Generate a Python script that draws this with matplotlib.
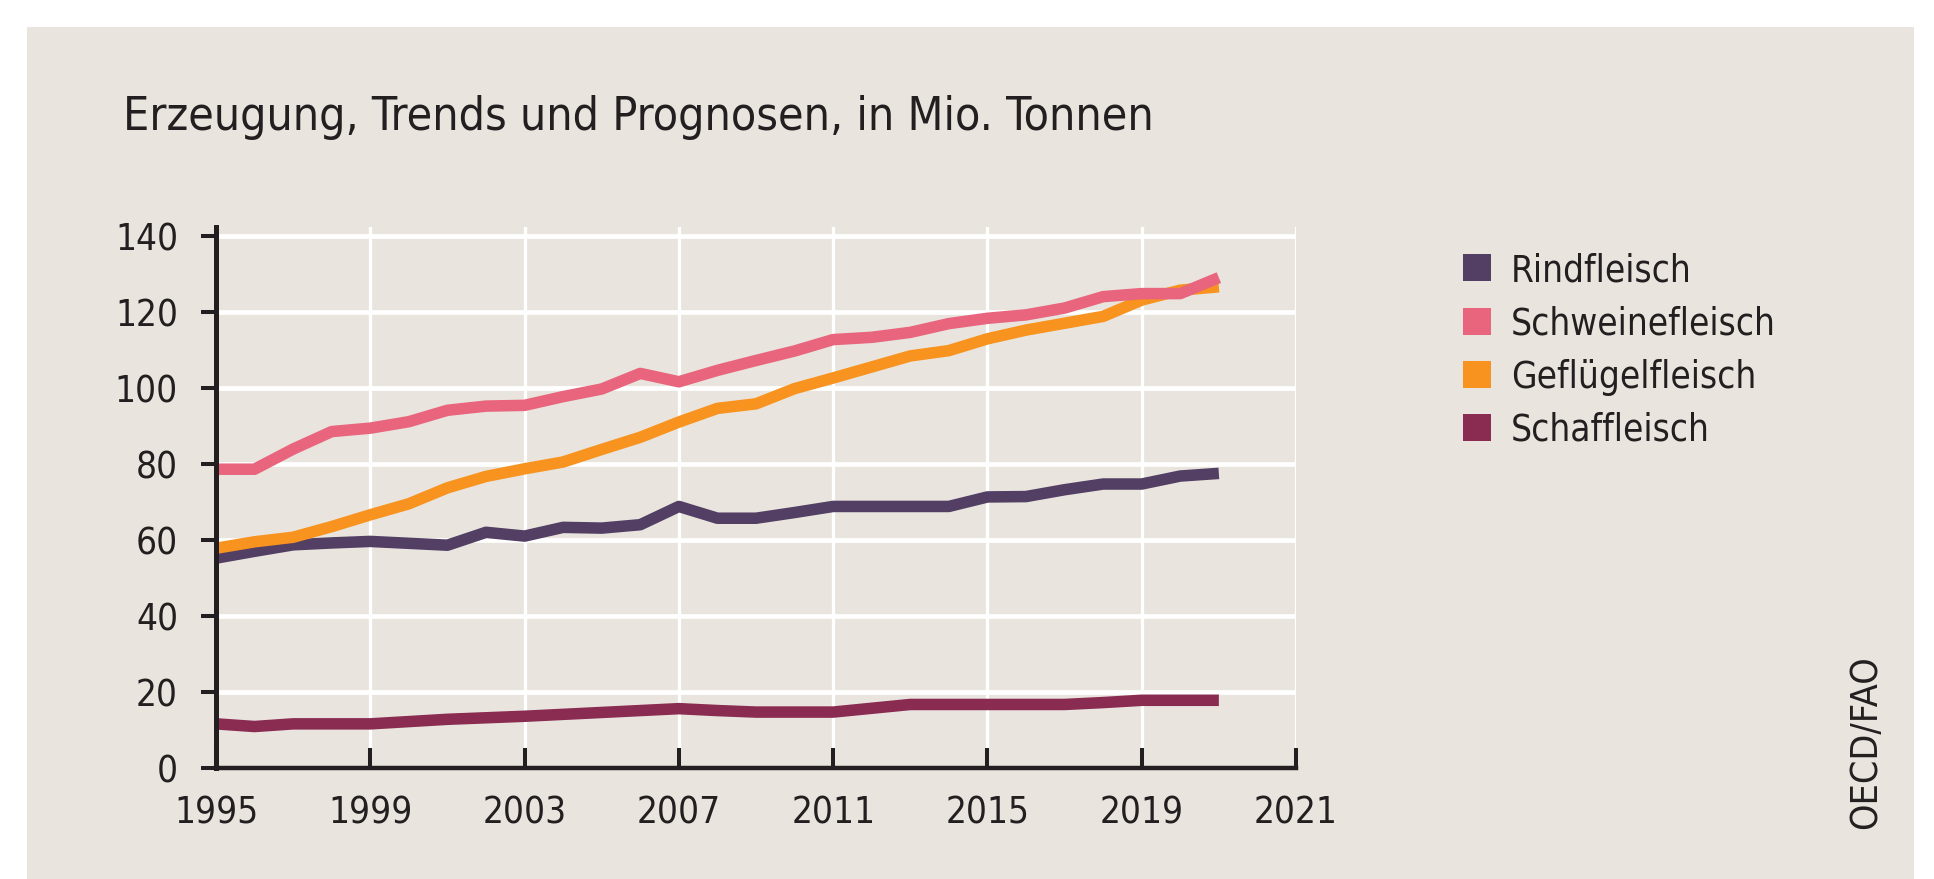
import matplotlib
matplotlib.use("Agg")
import matplotlib.pyplot as plt
from matplotlib.patches import Rectangle, Patch
from matplotlib import font_manager
import numpy as np

# pick a condensed sans if one is installed, else Roboto
_narrow = None
for f in font_manager.fontManager.ttflist:
    nm = f.name
    st = str(f.stretch)
    if f.style == "normal" and str(f.weight) in ("400", "normal") and (
            "Narrow" in nm or "Condensed" in nm or st in ("condensed", "semi-condensed", "extra-condensed")):
        _narrow = f
        break
if _narrow is not None:
    FONT_NAME = _narrow.name
else:
    FONT_NAME = "Roboto"
plt.rcParams['font.family'] = [FONT_NAME, 'DejaVu Sans']
if _narrow is not None:
    plt.rcParams['font.stretch'] = _narrow.stretch

# ---- data ----
years = list(range(1995, 2022))
rindfleisch = [55.2, 57.0, 58.7, 59.2, 59.6, 59.1, 58.6, 62.0, 61.0, 63.3, 63.1, 64.0, 68.8,
               65.7, 65.7, 67.2, 68.8, 68.8, 68.8, 68.8, 71.3, 71.4, 73.2, 74.7, 74.7, 76.8, 77.5]
schweinefleisch = [78.6, 78.6, 83.9, 88.5, 89.4, 91.1, 94.1, 95.2, 95.4, 97.7, 99.7, 103.8, 101.6,
                   104.6, 107.2, 109.7, 112.7, 113.3, 114.6, 116.9, 118.3, 119.2, 121.0, 124.0, 124.8, 124.8, 129.0]
gefluegelfleisch = [57.8, 59.5, 60.7, 63.5, 66.6, 69.5, 73.7, 76.7, 78.7, 80.5, 83.8, 87.0, 91.0,
                    94.6, 95.8, 99.8, 102.6, 105.5, 108.4, 109.8, 112.9, 115.2, 117.0, 118.8, 123.1, 125.7, 126.6]
schaffleisch = [11.6, 10.9, 11.6, 11.6, 11.6, 12.2, 12.8, 13.2, 13.6, 14.1, 14.6, 15.1, 15.6,
                15.1, 14.7, 14.7, 14.7, 15.7, 16.7, 16.7, 16.7, 16.7, 16.7, 17.2, 17.8, 17.8, 17.8]

series_names = ["Rindfleisch", "Schweinefleisch", "Geflügelfleisch", "Schaffleisch"]
series_colors = ["#523F63", "#E8657D", "#F7931E", "#8A2C52"]

x_tick_labels = ["1995", "1999", "2003", "2007", "2011", "2015", "2019", "2021"]
y_ticks = [0, 20, 40, 60, 80, 100, 120, 140]

title = "Erzeugung, Trends und Prognosen, in Mio. Tonnen"
source = "OECD/FAO"

# ---- figure ----
W, H = 1934, 879
DPI = 100
fig = plt.figure(figsize=(W / DPI, (H + 0.4) / DPI), dpi=DPI, facecolor="white")

BG = "#E9E5DE"
TXT = "#231F20"
fig.patches.append(Rectangle((27 / W, 0), (1914 - 27) / W, (879 - 27) / H,
                             transform=fig.transFigure, facecolor=BG, edgecolor="none", zorder=-5))

ax_left, ax_right = 216 / W, 1296 / W
ax_bottom, ax_top = 1 - 768 / H, 1 - 227 / H
ax = fig.add_axes([ax_left, ax_bottom, ax_right - ax_left, ax_top - ax_bottom])
ax.set_zorder(2)
ax.set_facecolor(BG)

lw = 8.3
data = [rindfleisch, schweinefleisch, gefluegelfleisch, schaffleisch]
draw_order = [0, 2, 1, 3]
for i in draw_order:
    ax.plot(years, data[i], color=series_colors[i], lw=lw, solid_capstyle="butt",
            solid_joinstyle="round", zorder=2)

ax.set_xlim(1995, 2023)
ax.set_ylim(0, 142.4)

ax.set_xticks(np.arange(1995, 2024, 4))
ax.set_xticklabels(x_tick_labels)
ax.set_yticks(y_ticks)
ax.set_yticklabels([str(v) for v in y_ticks])

ax.set_axisbelow(True)
ax.xaxis.grid(True, color="white", lw=2.3)
ax.yaxis.grid(True, color="white", lw=3.4)

for s in ["top", "right"]:
    ax.spines[s].set_visible(False)
ax.spines["left"].set_linewidth(3.6)
ax.spines["bottom"].set_linewidth(3.2)
ax.spines["left"].set_color(TXT)
ax.spines["bottom"].set_color(TXT)
ax.spines["left"].set_zorder(3)
ax.spines["bottom"].set_zorder(3)

ax.tick_params(axis="y", direction="out", length=10.8, width=2.9, color=TXT,
               labelsize=26.5, labelcolor=TXT, pad=16.5)
ax.tick_params(axis="x", direction="in", length=14.4, width=2.9, color=TXT,
               labelsize=26.5, labelcolor=TXT, pad=19)

fig.text(123 / W, 1 - 130 / H, title, fontsize=33.3, color=TXT, ha="left", va="baseline")

handles = [Patch(facecolor=c, edgecolor="none") for c in series_colors]
fig.legend(handles, series_names, loc="upper left", bbox_to_anchor=(1463 / W, 1 - 252 / H),
           frameon=False, fontsize=26.5, labelcolor=TXT, handlelength=0.75, handleheight=0.75,
           handletextpad=0.55, labelspacing=0.44, borderpad=0, borderaxespad=0)

fig.text(1866 / W, 1 - 742 / H, source, fontsize=27, color=TXT, rotation=90,
         ha="center", va="center")

fig.savefig("out.png", dpi=DPI, facecolor="white")
